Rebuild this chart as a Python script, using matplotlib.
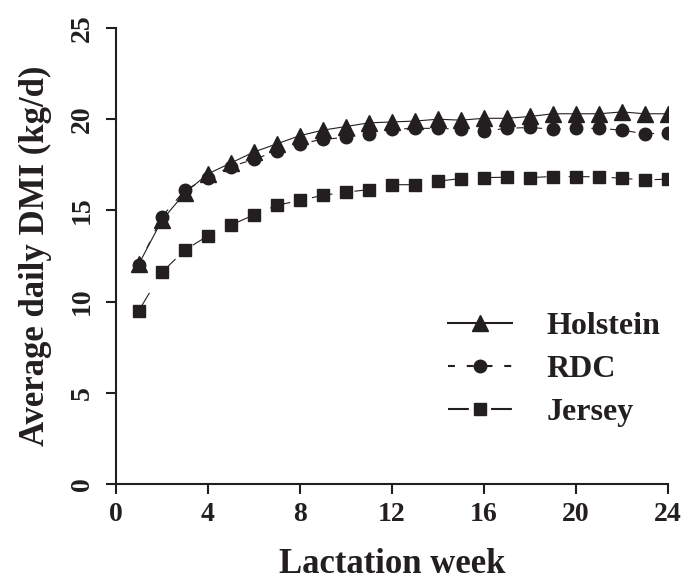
import numpy as np
import matplotlib
matplotlib.use('Agg')
import matplotlib.pyplot as plt

plt.rcParams['font.family'] = ['Liberation Serif', 'DejaVu Serif']
plt.rcParams['font.weight'] = 'bold'
plt.rcParams['axes.labelweight'] = 'bold'
plt.rcParams['lines.scale_dashes'] = False

# data
weeks = np.arange(1, 25)
holstein = [12.05, 14.45, 15.95, 17.0, 17.6, 18.2, 18.65, 19.1, 19.4, 19.6, 19.8, 19.85,
            19.9, 20.0, 19.95, 20.05, 20.05, 20.15, 20.3, 20.3, 20.3, 20.4, 20.3, 20.3]
rdc = [12.0, 14.65, 16.1, 16.8, 17.4, 17.8, 18.25, 18.65, 18.9, 19.0, 19.2, 19.45,
       19.5, 19.5, 19.45, 19.35, 19.5, 19.55, 19.45, 19.5, 19.5, 19.4, 19.2, 19.25]
jersey = [9.5, 11.6, 12.83, 13.6, 14.2, 14.75, 15.28, 15.55, 15.83, 16.0, 16.14, 16.41,
          16.41, 16.6, 16.75, 16.8, 16.82, 16.8, 16.86, 16.85, 16.85, 16.76, 16.67, 16.72]

ink = '#231f20'

fig = plt.figure(figsize=(6.86, 5.84), dpi=100)
ax = fig.add_axes([0.1687, 0.1712, 0.8051, 0.7808])

ax.plot(weeks, holstein, color=ink, lw=0.8, ls='-', marker='^', ms=12, label='Holstein')
ax.plot(weeks, rdc, color=ink, lw=0.8, dashes=(5, 8.5), marker='o', ms=9, label='RDC')
ax.plot(weeks, jersey, color=ink, lw=0.8, dashes=(15, 16), marker='s', ms=9, label='Jersey')

ax.set_xlim(0, 24)
ax.set_ylim(0, 25)
ax.set_xticks(range(0, 25, 4))
ax.set_yticks(range(0, 26, 5))

for s in ['top', 'right']:
    ax.spines[s].set_visible(False)
for s in ['left', 'bottom']:
    ax.spines[s].set_linewidth(1.5)
    ax.spines[s].set_color(ink)

ax.tick_params(axis='both', direction='out', length=7, width=1.5, color=ink,
               labelsize=20, labelcolor=ink)
ax.tick_params(axis='x', pad=6)
ax.tick_params(axis='y', pad=8)
for lbl in ax.get_yticklabels():
    lbl.set_rotation(90)
    lbl.set_va('center')

ax.set_xlabel('Lactation week', fontsize=25, color=ink, va='baseline')
ax.xaxis.set_label_coords(0.5, -0.196)
ax.set_ylabel('Average daily DMI (kg/d)', fontsize=25, color=ink)
ax.yaxis.set_label_coords(-0.115, 0.5)

leg = ax.legend(loc='upper left', bbox_to_anchor=(448 / 686, 1 - 312 / 584),
                bbox_transform=fig.transFigure, frameon=False, fontsize=23,
                borderpad=0, borderaxespad=0, handlelength=2.0, handletextpad=1.09,
                labelspacing=0.42, labelcolor=ink)
for h in leg.get_lines():
    h.set_linewidth(1.5)

plt.savefig('out.png', dpi=100)
